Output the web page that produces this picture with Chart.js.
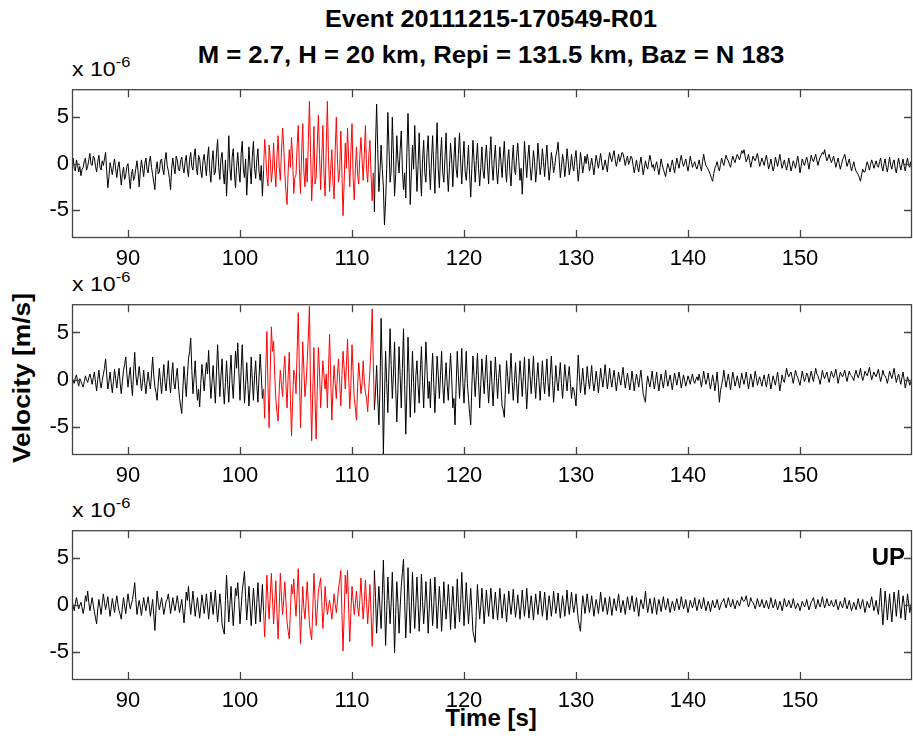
<!DOCTYPE html>
<html>
<head>
<meta charset="utf-8">
<script src="https://cdn.jsdelivr.net/npm/chart.js@4.4.1/dist/chart.umd.min.js"></script>
<style>
  body { margin: 0; background: #fff; width: 913px; height: 740px; position: relative; overflow: hidden;
         font-family: 'Liberation Sans', Arial, sans-serif; color: #000; }
  canvas { position: absolute; left: 0; }
  .lbl { position: absolute; white-space: nowrap; line-height: 1; }
  .bold { font-weight: bold; font-size: 24px; }
  .mult { font-size: 21px; transform-origin: left center; transform: scaleX(1.1); }
  .mult span { font-size: 15px; position: relative; top: -9px; }
</style>
</head>
<body>
<div class="lbl bold" style="left:491px;top:19px;transform:translate(-50%,-50%) scaleX(1.05)">Event 20111215-170549-R01</div>
<div class="lbl bold" style="left:491px;top:55px;transform:translate(-50%,-50%) scaleX(1.07)">M = 2.7, H = 20 km, Repi = 131.5 km, Baz = N 183</div>
<div class="lbl mult" style="left:72px;top:58px">x 10<span>-6</span></div>
<div class="lbl mult" style="left:72px;top:273px">x 10<span>-6</span></div>
<div class="lbl mult" style="left:72px;top:499px">x 10<span>-6</span></div>
<div class="lbl bold" style="left:22px;top:378px;transform:translate(-50%,-50%) rotate(-90deg) scaleX(1.1)">Velocity [m/s]</div>
<div class="lbl bold" style="left:491px;top:718px;transform:translate(-50%,-50%)">Time [s]</div>
<canvas id="c1"></canvas>
<canvas id="c2"></canvas>
<canvas id="c3"></canvas>
<div class="lbl bold" style="left:905px;top:557px;transform:translate(-100%,-50%)">UP</div>
<script>
// sampling of the traces
const timeStart = 85;
const timeStep = 0.1;
const xTickValues = [90, 100, 110, 120, 130, 140, 150];
const yTickValues = [-5, 0, 5];
const pickStart = 102.05, pickEnd = 111.95;   // red window

// velocities in 1e-7 m/s, one row = 2 s (20 samples)
const trace1 = [
  2,6,-5,-8,4,-2,-9,-3,-13,-6,-4,3,6,-7,-3,4,11,-1,-2,8,
  6,-3,-9,2,9,-4,-7,3,-2,5,12,-8,-26,-14,1,-5,-12,-2,5,-6,
  -15,-4,2,-10,-23,-11,-4,-17,-12,-3,0,-14,-27,-12,-6,-18,-14,-5,3,-9,
  -25,-8,4,-5,-14,0,6,-6,-10,2,8,-4,-12,-20,-28,-6,2,-11,-9,3,
  5,-6,-12,4,12,-2,-8,-16,-28,-5,6,-4,-11,8,4,-6,-8,3,7,-4,
  -10,2,9,-6,-14,4,12,-3,-7,8,16,-5,-12,9,5,-8,-15,3,10,-2,
  -13,6,18,-8,-20,3,14,-12,-9,11,26,-4,-17,5,12,-10,-22,4,-35,-6,
  30,-5,-18,7,16,-10,-26,-3,12,-8,-20,10,24,-6,-15,5,-34,-9,18,-4,
  -22,8,24,-5,-16,4,16,-9,-18,-2,-35,-8,26,10,-14,-24,20,6,-20,-7,
  22,-6,-25,8,30,-3,-18,12,38,20,-10,-30,-44,-8,15,-4,28,6,-32,-15,
  -12,18,41,-5,-32,10,43,-8,-25,6,-20,25,67,12,-40,-10,40,-22,-15,20,
  52,10,-28,6,41,-12,-35,18,67,8,-30,-5,15,-20,-38,14,50,5,-20,-8,
  35,-10,-56,-20,22,-5,38,6,-25,12,43,-15,-39,-6,18,-12,-22,8,28,4,
  -18,10,41,-6,-20,8,25,-12,-40,-10,-52,20,64,15,-30,-8,20,-5,-25,-66,
  -40,-5,55,18,-20,-8,50,10,-35,-12,30,4,-10,15,35,-6,-28,-10,-37,12,
  54,8,-44,-10,20,-6,41,5,-30,-2,33,-8,-35,4,25,-10,-20,12,30,-5,
  -28,5,30,-4,-32,10,44,-6,-26,8,28,-10,-20,6,33,-8,-30,-4,22,5,
  -25,4,28,-6,-15,10,33,2,-22,5,24,-8,-18,-2,20,-12,-36,-5,25,3,
  -20,3,22,-5,-24,-4,18,-8,-16,6,20,-3,-22,8,29,-2,-18,5,20,-6,
  -22,-4,18,2,-15,6,24,-5,-20,4,15,-10,-24,3,20,-6,-12,8,22,2,
  -18,-5,-33,-8,24,4,-15,6,20,-3,-18,-5,14,2,-20,-6,22,5,-12,-2,
  16,2,-14,4,20,-2,-18,-6,12,3,-10,-3,8,14,23,4,-15,-4,10,2,
  -14,-2,16,3,-12,-4,10,-2,-8,5,14,-3,-19,-6,12,2,-10,-2,8,0,
  10,3,-8,-2,6,-3,-12,-1,9,2,-5,3,11,1,-7,-3,4,-2,-9,4,
  12,6,2,9,14,4,-3,3,10,2,6,12,11,5,-2,4,8,-1,3,8,
  6,-2,-10,-3,4,-4,-9,0,7,-2,-12,-5,3,-3,-6,2,9,3,-4,-1,
  -8,-2,2,-5,-12,-4,5,-1,-6,-10,-14,-6,0,-4,-9,-2,4,-3,-10,-2,
  6,0,-5,3,9,2,-3,1,5,-2,-8,-1,8,2,-4,-1,2,-3,-6,-1,
  4,-3,-8,2,10,3,-2,-4,-6,-9,-12,-16,-19,-11,-5,-2,2,-4,-8,-1,
  6,1,-2,4,9,5,3,-1,-4,3,8,4,1,6,10,7,4,9,14,11,
  15,8,2,5,10,3,-4,2,8,5,3,7,11,4,-3,1,6,2,-2,4,
  9,2,-6,-1,5,-2,-8,-3,7,2,-3,3,10,2,-5,-1,4,-2,-7,-1,
  6,-1,-8,-3,3,-1,-5,2,8,0,-10,-3,5,1,-2,3,7,1,-6,2,
  9,5,2,6,10,4,-2,3,7,9,12,10,15,8,3,6,10,5,1,4,
  8,2,-4,1,6,0,-6,-1,4,7,10,3,-3,1,5,-2,-8,-3,2,-4,
  -8,-10,-12,-15,-19,-12,-6,-9,-9,-3,2,-2,-7,-1,4,0,-5,-1,3,-2,
  -4,2,6,-3,-8,0,5,-4,-9,-1,7,-2,-6,1,4,-5,-10,-2,6,-1,
  -7,-1,5,-3,-8,1,6,-2,-4,2,-2
];
const trace2 = [
  3,-1,-4,2,5,-2,-7,1,-2,-5,-8,-2,4,0,-3,2,6,1,-5,2,
  8,-3,-12,0,10,-2,-9,-1,6,12,22,5,-10,-2,8,-4,-14,-2,11,1,
  -9,3,12,-4,-15,-2,10,16,24,6,-8,4,13,-5,-17,8,29,5,-6,3,
  14,2,-12,-3,10,-4,-15,-2,8,-3,-10,6,24,5,-8,-14,-22,-4,12,-2,
  -15,2,16,-3,-12,4,20,-2,-14,5,18,-4,-10,3,12,-6,-20,-28,-36,-10,
  14,-2,-18,3,22,30,44,10,-15,2,20,-5,-22,-10,-29,-4,16,3,-12,5,
  18,6,31,4,-20,-3,15,-6,-25,8,37,10,-18,4,22,-8,-26,-3,20,-5,
  -24,5,26,-4,-20,6,30,12,39,8,-22,10,37,5,-25,-6,18,-5,-28,-8,
  24,0,-22,4,20,-6,-24,3,27,5,-20,-10,-41,12,51,-8,-51,10,56,30,
  41,5,-20,-35,-44,-12,10,-5,-18,8,25,-4,-30,4,29,-20,-60,-22,10,4,
  -15,30,71,10,-51,-8,40,12,-18,-4,20,45,78,-10,-65,-12,34,-20,-63,-10,
  34,8,-30,-5,20,4,-10,6,-30,10,48,2,-43,-10,15,-4,-20,6,22,-3,
  -28,4,30,12,-10,15,43,5,-31,-6,37,8,-20,-30,-43,-8,18,2,-15,-4,
  20,-2,-14,-20,-34,-10,10,35,75,20,-32,-12,15,-20,-48,-8,65,10,-80,-20,
  30,-4,-35,10,54,15,-20,6,40,-8,-45,-10,35,4,-30,12,54,-5,-58,-12,
  45,6,-40,-8,30,-3,-35,4,20,-6,-25,8,35,-2,-30,5,40,10,-20,-2,
  -30,3,28,-4,-35,-6,25,6,-20,4,30,-5,-25,-2,18,-6,-22,5,28,2,
  -30,-20,-48,-6,30,4,-20,5,33,-3,-25,2,30,-4,-20,-36,-48,-8,25,3,
  -18,4,28,-2,-30,-5,22,3,-15,6,26,-4,-25,-3,20,-6,-28,-2,24,2,
  -20,2,16,-6,-28,-32,-40,-10,20,3,-15,4,28,-2,-22,-3,18,-4,-25,-2,
  20,2,-18,3,24,-6,-31,-8,22,4,-15,3,25,-2,-20,2,18,-3,-22,-1,
  20,-2,-15,4,22,-3,-18,5,25,-1,-24,-6,15,-2,-12,3,18,-4,-20,-3,
  16,2,-12,3,14,-4,-20,-8,-10,-18,-28,-2,26,5,-14,-2,12,-3,-16,-2,
  14,1,-10,2,15,-2,-12,-3,9,-1,-14,-2,12,1,-8,3,16,2,-10,0,
  12,0,-8,2,10,-1,-12,-2,8,0,-6,4,13,1,-9,-1,7,-2,-11,-3,
  9,-1,-12,-2,6,-1,-8,2,10,-3,-15,-20,-24,-6,4,-3,-8,0,9,-2,
  -10,-1,8,-3,-12,-2,6,-2,-9,0,10,1,-7,-1,5,-3,-11,-2,7,1,
  -6,1,8,0,-9,-2,5,-1,-7,-2,4,0,-5,1,6,-1,-4,0,3,-1,
  6,-1,-8,0,9,1,-5,0,7,-2,-10,-3,5,-2,-12,-3,8,-6,-24,-12,
  -6,1,10,0,-8,-1,6,-2,-11,-1,8,1,-7,-2,4,-2,-9,-1,7,0,
  -5,1,8,-1,-10,-2,6,0,-8,0,9,2,-6,-1,3,-2,-7,0,5,-2,
  -8,0,6,-2,-10,-3,4,-1,-6,1,8,-2,-12,-4,5,0,-3,4,12,6,
  3,6,8,2,-4,3,10,5,2,-2,-6,1,9,3,-2,2,7,4,-3,3,
  9,3,-2,5,12,6,4,0,-5,2,10,4,1,5,8,2,-3,3,9,5,
  2,6,11,4,-4,2,8,5,3,6,10,3,-2,4,9,5,4,2,-1,5,
  10,5,2,6,12,4,-1,3,9,6,4,8,13,6,0,4,8,5,3,7,
  11,4,-2,3,10,5,4,1,-4,2,9,5,1,6,12,4,-3,2,6,0,
  -5,2,8,0,-9,-3,3,-1,-6,-2,2
];
const traceUp = [
  5,-1,-6,2,8,1,-4,0,3,-3,-9,-2,10,4,15,3,-6,1,8,0,
  -7,-14,-20,-4,6,-2,-10,1,12,3,-5,2,9,-2,-12,-3,7,0,-8,2,
  10,1,-6,-10,-15,-2,8,-1,-9,2,12,3,-4,1,6,14,24,6,-10,-2,
  5,-2,-11,-1,8,0,-6,2,9,-1,-12,-3,6,-10,-27,-4,15,3,-5,1,
  8,-1,-10,-3,4,6,12,2,-9,-1,8,0,-6,2,10,1,-8,-1,6,-6,
  -19,-4,14,5,20,3,-10,2,15,1,-12,-2,8,-3,-14,-2,11,2,-9,0,
  12,-1,-15,-2,14,2,-10,3,16,-2,-18,-4,12,0,-20,-26,-31,5,32,6,
  -18,1,20,-3,-22,-2,18,10,24,4,-20,-3,15,25,36,8,-16,2,20,-1,
  -22,-2,18,1,-20,2,24,3,-18,0,22,-6,-34,-4,32,6,-15,10,34,8,
  -20,2,26,-8,-36,-4,34,10,-10,5,25,4,-18,-28,-36,-6,22,12,28,6,
  -12,12,39,2,-41,-10,20,-3,-15,4,25,2,-20,-30,-37,-4,34,6,-22,-5,
  15,22,29,4,-25,-6,20,3,-10,-2,5,-4,-15,-2,12,1,-8,4,18,26,
  37,-8,-49,-10,32,12,37,-4,-39,-8,20,5,-10,2,15,-1,-12,6,29,4,
  -15,4,27,3,-20,0,22,-8,-44,-12,37,8,-30,-3,20,-4,-25,10,48,5,
  -43,-6,30,5,-20,2,35,-3,-51,-10,25,3,-30,-2,20,35,49,4,-35,-5,
  40,4,-30,-2,35,3,-25,0,30,2,-28,-3,33,4,-20,-1,25,2,-30,-4,
  28,3,-22,-1,30,4,-25,-2,20,1,-28,-3,25,2,-15,0,22,3,-26,-2,
  20,-1,-25,-3,28,2,-18,1,35,6,-22,-2,24,1,-20,-2,18,-4,-28,-34,
  -40,-6,22,2,-15,-1,18,1,-20,-2,16,0,-12,3,18,1,-15,-1,14,-2,
  -16,0,18,2,-14,-1,12,-2,-18,-1,15,1,-10,2,17,0,-13,-2,11,0,
  -15,-1,16,1,-12,0,18,2,-14,-1,10,-2,-16,-1,12,0,-10,2,15,1,
  -12,0,14,-1,-16,-2,10,1,-12,0,15,2,-9,0,13,-1,-14,-2,10,0,
  -12,1,16,0,-10,2,14,1,-8,0,12,-2,-15,-22,-28,-5,10,2,-9,1,
  12,1,-8,0,10,-1,-12,-2,6,0,-9,1,14,2,-7,0,8,-1,-10,-1,
  9,-1,-11,-2,7,0,-6,2,12,1,-8,-1,5,-2,-10,0,9,1,-5,2,
  10,1,-7,0,8,-2,-12,-1,6,1,-4,3,15,2,-8,-1,7,0,-9,-1,
  8,0,-10,-1,6,0,-7,1,9,1,-5,0,7,-1,-8,-2,4,0,-6,1,
  7,1,-5,0,9,2,-4,0,6,-1,-8,-2,5,1,-3,1,8,0,-6,0,
  6,1,-4,1,8,0,-6,-1,4,0,-7,-1,5,0,-3,1,6,0,-5,-1,
  3,4,7,1,-3,2,8,3,-2,1,6,0,-4,1,5,2,-1,4,9,5,
  4,6,10,3,-2,2,8,4,3,0,-4,1,7,2,-2,1,6,1,-3,1,
  5,0,-4,1,8,2,-3,0,6,0,-5,-1,4,0,-6,-1,7,2,-2,1,
  5,1,-3,1,7,1,-4,-1,2,-1,-6,-1,4,1,-2,1,6,0,-5,-1,
  3,5,8,2,-4,0,6,1,-2,3,9,2,-3,1,7,2,-1,1,5,1,
  -2,1,6,0,-5,-1,4,0,-3,2,8,1,-4,0,5,-1,-6,-2,3,-1,
  -5,1,7,0,-4,2,6,-1,-8,-2,4,0,-3,3,9,1,-6,-1,5,-4,
  -10,4,18,-3,-21,-4,15,2,-16,-2,12,-5,-18,-1,14,3,-12,2,16,0,
  -14,-2,10,1,-16,-3,12,2,-8,-1,6
];

const axisColor = '#444';
const tickLen = 8;
const tickFont = { family: "'Liberation Sans', Arial, sans-serif", size: 22 };

// MATLAB style box with inward ticks on all four sides
const boxPlugin = {
    id: 'box',
    afterDatasetsDraw: function(chart) {
        const ctx = chart.ctx, a = chart.chartArea;
        const x = chart.scales.x, y = chart.scales.y;
        ctx.save();
        ctx.strokeStyle = axisColor;
        ctx.lineWidth = 1.3;
        ctx.strokeRect(a.left + 0.5, a.top + 0.5, a.right - a.left - 1, a.bottom - a.top - 1);
        ctx.beginPath();
        xTickValues.forEach(v => {
            const px = Math.round(x.getPixelForValue(v)) + 0.5;
            ctx.moveTo(px, a.bottom); ctx.lineTo(px, a.bottom - tickLen);
            ctx.moveTo(px, a.top); ctx.lineTo(px, a.top + tickLen);
        });
        yTickValues.forEach(v => {
            const py = Math.round(y.getPixelForValue(v)) + 0.5;
            ctx.moveTo(a.left, py); ctx.lineTo(a.left + tickLen, py);
            ctx.moveTo(a.right, py); ctx.lineTo(a.right - tickLen, py);
        });
        ctx.stroke();
        ctx.restore();
    }
};

const panels = [
    { id: 'c1', top: 83, bottom: 238, values: trace1 },
    { id: 'c2', top: 298, bottom: 455, values: trace2 },
    { id: 'c3', top: 524, bottom: 680, values: traceUp }
];

function drawPanel(p) {
    const cv = document.getElementById(p.id);
    const h = p.bottom - p.top + 50;
    cv.width = 913; cv.height = h;
    cv.style.top = (p.top - 10) + 'px';
    cv.style.width = '913px'; cv.style.height = h + 'px';
    new Chart(cv, {
        type: 'line',
        data: {
            datasets: [{
                data: p.values.map((v, i) => ({ x: timeStart + i * timeStep, y: v / 10 })),
                borderColor: '#000',
                borderWidth: 1,
                pointRadius: 0,
                tension: 0,
                segment: {
                    borderColor: c => (c.p0.parsed.x > pickStart && c.p0.parsed.x < pickEnd) ? '#ff0000' : '#000000'
                }
            }]
        },
        options: {
            responsive: false,
            animation: false,
            events: [],
            layout: { padding: { top: 10, left: 0, right: 1, bottom: 0 } },
            plugins: { legend: { display: false }, tooltip: { enabled: false } },
            scales: {
                x: {
                    type: 'linear', min: 85, max: 160,
                    afterBuildTicks: s => { s.ticks = xTickValues.map(v => ({ value: v })); },
                    afterFit: s => { s.height = 40; },
                    grid: { display: false, drawTicks: false },
                    border: { display: false },
                    ticks: { color: '#000', font: tickFont, padding: 8, maxRotation: 0, autoSkip: false }
                },
                y: {
                    min: -8, max: 8,
                    afterBuildTicks: s => { s.ticks = yTickValues.map(v => ({ value: v })); },
                    afterFit: s => { s.width = 72; },
                    grid: { display: false, drawTicks: false },
                    border: { display: false },
                    ticks: { color: '#000', font: tickFont, padding: 3 }
                }
            }
        },
        plugins: [boxPlugin]
    });
}

panels.forEach(drawPanel);
</script>
</body>
</html>
